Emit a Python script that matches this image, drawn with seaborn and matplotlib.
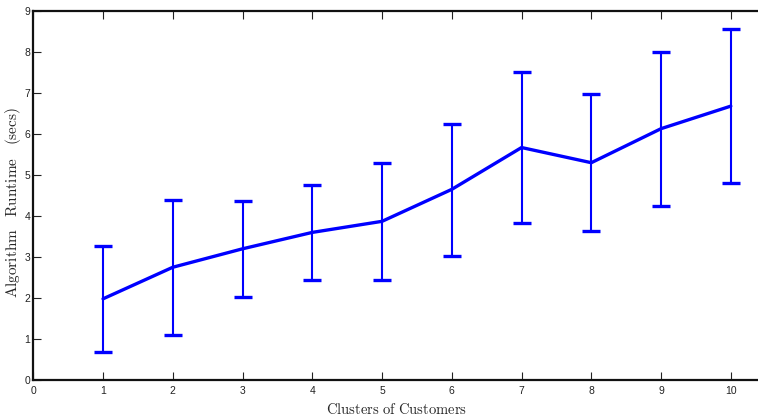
import matplotlib
matplotlib.use("Agg")
import matplotlib.pyplot as plt
import seaborn as sns
import pandas as pd
import numpy as np

clusters = [1, 2, 3, 4, 5, 6, 7, 8, 9, 10]
runtime_mean = [1.98, 2.75, 3.20, 3.60, 3.87, 4.65, 5.67, 5.30, 6.13, 6.68]
runtime_low = [0.68, 1.10, 2.03, 2.43, 2.43, 3.03, 3.83, 3.63, 4.25, 4.81]
runtime_high = [3.28, 4.40, 4.37, 4.75, 5.30, 6.25, 7.50, 6.98, 8.00, 8.56]
x_ticks = [0, 1, 2, 3, 4, 5, 6, 7, 8, 9, 10]
y_ticks = [0, 1, 2, 3, 4, 5, 6, 7, 8, 9]

sns.set_style("white")
plt.rcParams['font.family'] = ['Liberation Sans Narrow', 'Liberation Sans', 'DejaVu Sans']
plt.rcParams['mathtext.fontset'] = 'cm'

df = pd.DataFrame({"clusters": clusters, "runtime": runtime_mean})

fig = plt.figure(figsize=(7.58, 4.19), dpi=100)
ax = fig.add_axes([33.3 / 758, 39 / 419, 1 - 33.3 / 758, 369 / 419])

mean = np.array(runtime_mean)
yerr = [mean - np.array(runtime_low), np.array(runtime_high) - mean]
ax.errorbar(clusters, runtime_mean, yerr=yerr, fmt='none', ecolor='#0000ff',
            elinewidth=1.5, capsize=6.5, capthick=2.4, zorder=2)
sns.lineplot(data=df, x="clusters", y="runtime", ax=ax, color='#0000ff',
             linewidth=2.4, zorder=3)

ax.set_xlim(0, 10.39)
ax.set_ylim(0, 9)
ax.set_xticks(x_ticks)
ax.set_yticks(y_ticks)
ax.tick_params(axis='both', direction='in', length=6, width=0.8, color='#222222',
               labelsize=7.5, labelcolor='#222222')
ax.tick_params(axis='x', top=True, bottom=True, pad=4)
ax.tick_params(axis='y', left=True, right=False, pad=2)

for side in ['left', 'top', 'bottom']:
    ax.spines[side].set_visible(True)
    ax.spines[side].set_color('#111111')
    ax.spines[side].set_linewidth(1.6)
ax.spines['right'].set_visible(False)

ax.set_xlabel(r'$\mathrm{Clusters\ of\ Customers}$', fontsize=10.5)
ax.xaxis.set_label_coords((397 - 33.3) / 724.7, -(409 - 380) / 369)
ax.xaxis.label.set_va('center')
ax.set_ylabel(r'$\mathrm{Algorithm\ \ \ Runtime\ \ \ (secs)}$', fontsize=11)
ax.yaxis.set_label_coords(-(33.3 - 13) / 724.7, (380 - 202) / 369)
ax.yaxis.label.set_va('center')
ax.grid(False)

fig.savefig("out.png", dpi=100)
